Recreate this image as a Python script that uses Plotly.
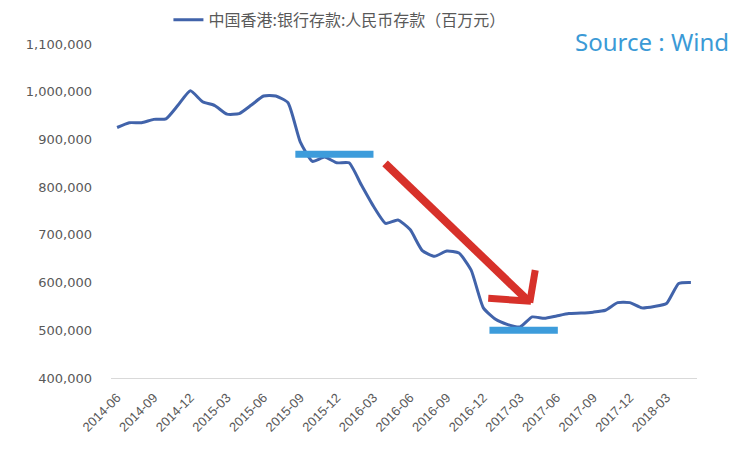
import plotly.graph_objects as go

months = [
    "2014-06", "2014-07", "2014-08", "2014-09", "2014-10", "2014-11", "2014-12",
    "2015-01", "2015-02", "2015-03", "2015-04", "2015-05", "2015-06", "2015-07",
    "2015-08", "2015-09", "2015-10", "2015-11", "2015-12", "2016-01", "2016-02",
    "2016-03", "2016-04", "2016-05", "2016-06", "2016-07", "2016-08", "2016-09",
    "2016-10", "2016-11", "2016-12", "2017-01", "2017-02", "2017-03", "2017-04",
    "2017-05", "2017-06", "2017-07", "2017-08", "2017-09", "2017-10", "2017-11",
    "2017-12", "2018-01", "2018-02", "2018-03", "2018-04", "2018-05",
]
deposits = [
    925000, 935000, 935000, 942000, 943000, 972000, 1002000,
    979000, 971000, 953000, 954000, 972000, 991000, 991000,
    977000, 895000, 854000, 863000, 851000, 851000, 805000,
    760000, 724000, 731000, 711000, 667000, 655000, 666000,
    662000, 626000, 547000, 523000, 512000, 507000, 528000,
    525000, 530000, 535000, 536000, 538000, 542000, 558000,
    558000, 547000, 550000, 556000, 598000, 600000,
]
tick_labels = [
    "2014-06", "2014-09", "2014-12", "2015-03", "2015-06", "2015-09", "2015-12",
    "2016-03", "2016-06", "2016-09", "2016-12", "2017-03", "2017-06", "2017-09",
    "2017-12", "2018-03",
]
y_ticks = [400000, 500000, 600000, 700000, 800000, 900000, 1000000, 1100000]
series_name = "中国香港:银行存款:人民币存款（百万元）"

# highlight levels (annotation)
upper_level = 869000
lower_level = 500000

fig = go.Figure()
fig.add_trace(go.Scatter(
    x=months, y=deposits, mode="lines", name=series_name,
    line=dict(color="#4163AA", width=3, shape="spline", smoothing=0.5),
))

# blue highlight bars
fig.add_shape(type="line", xref="x", yref="y",
              x0=14.6, x1=21.0, y0=upper_level, y1=upper_level,
              line=dict(color="#3D9CDB", width=7))
fig.add_shape(type="line", xref="x", yref="y",
              x0=30.5, x1=36.1, y0=lower_level, y1=lower_level,
              line=dict(color="#3D9CDB", width=7))
# red arrow
red = "#D7312A"
fig.add_shape(type="line", xref="x", yref="y",
              x0=21.95, y0=850000, x1=33.7, y1=561000,
              line=dict(color=red, width=8))
fig.add_shape(type="line", xref="x", yref="y",
              x0=30.4, y0=567000, x1=33.9, y1=561000,
              line=dict(color=red, width=7))
fig.add_shape(type="line", xref="x", yref="y",
              x0=34.25, y0=626000, x1=33.8, y1=558000,
              line=dict(color=red, width=7))

fig.add_annotation(text="Source : Wind", xref="paper", yref="paper",
                   x=1.058, y=1.006, xanchor="right", yanchor="middle",
                   showarrow=False,
                   font=dict(family="Noto Sans", size=24, color="#3B9AD6"))

fig.update_layout(
    width=748, height=454,
    margin=dict(l=111, r=51, t=44, b=76, autoexpand=False),
    paper_bgcolor="white", plot_bgcolor="white",
    showlegend=True,
    legend=dict(orientation="h", x=0.098, y=1.072, xanchor="left", yanchor="middle",
                font=dict(family="Noto Sans CJK SC", size=16, color="#595959"),
                bgcolor="rgba(0,0,0,0)", itemwidth=30),
    xaxis=dict(
        type="category", range=[-0.5, len(months) - 0.5],
        tickmode="array", tickvals=tick_labels, ticktext=tick_labels,
        tickangle=-45, showgrid=False, showline=True, linecolor="#D9D9D9",
        linewidth=1, ticks="", zeroline=False, ticklabelstandoff=6,
        tickfont=dict(family="Liberation Sans", size=13, color="#595959"),
    ),
    yaxis=dict(
        range=[400000, 1100000], tickvals=y_ticks, tickformat=",",
        showgrid=False, showline=False, zeroline=False, ticks="",
        ticklabelstandoff=18,
        tickfont=dict(family="DejaVu Sans", size=13, color="#595959"),
    ),
)

fig.write_html("out.html")
